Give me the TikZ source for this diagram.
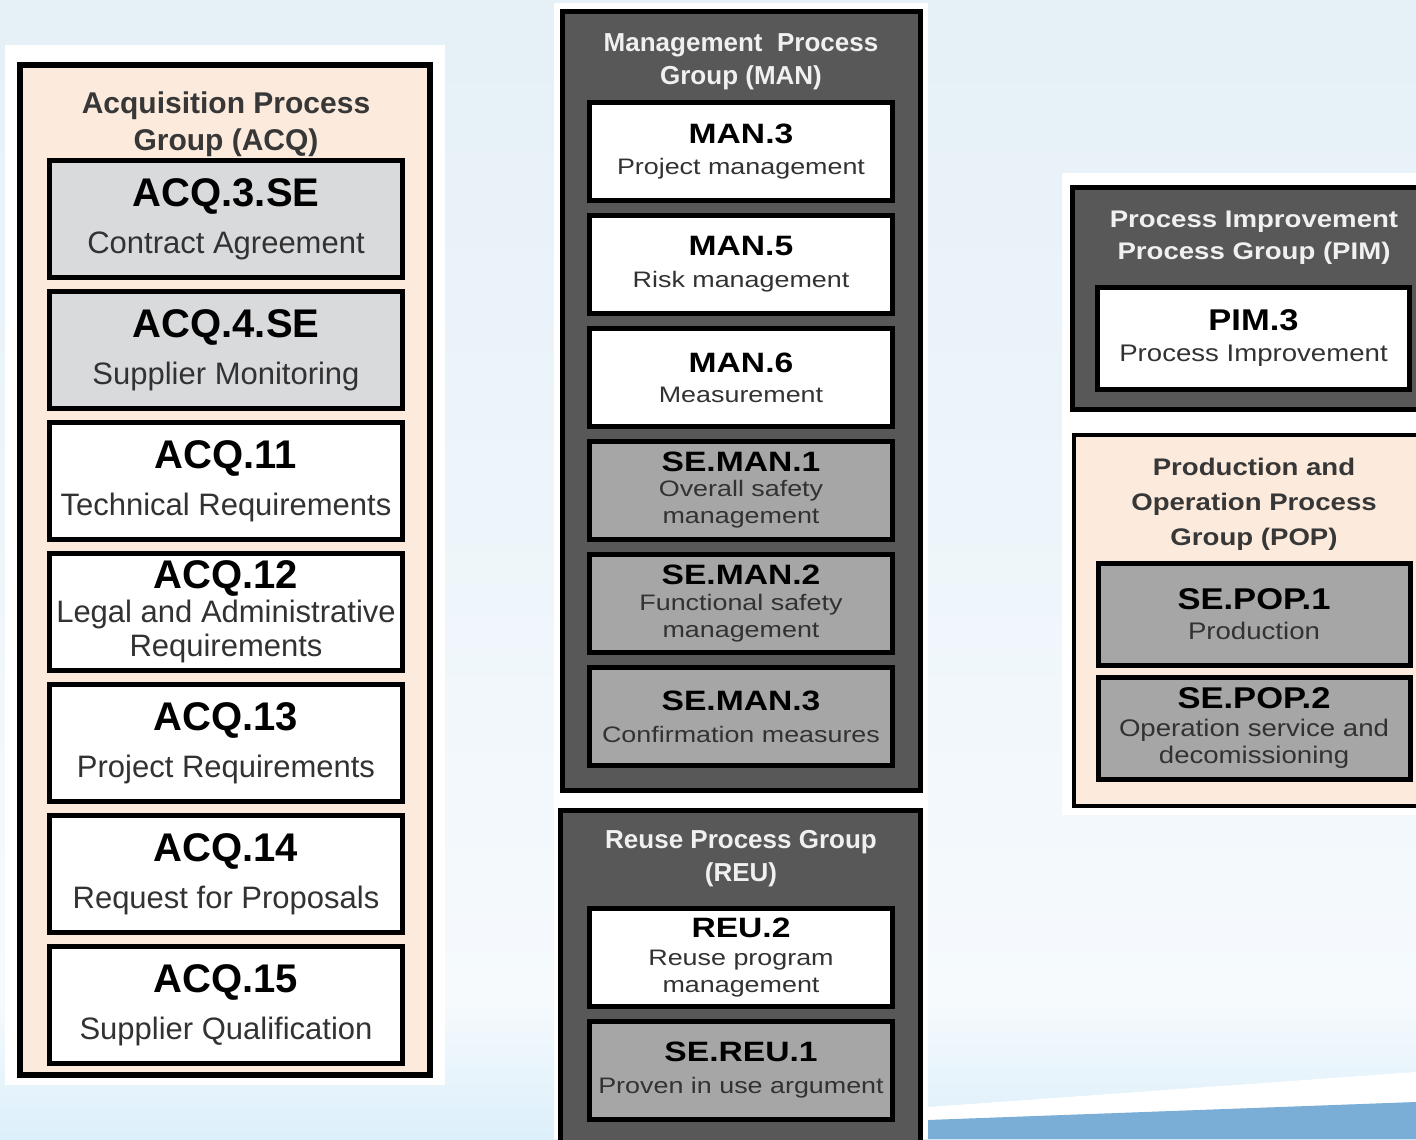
\documentclass[tikz,border=0pt]{standalone}
\usepackage{fontspec}
\setmainfont{Liberation Sans}
\newfontfamily\manfont[FakeStretch=1.2]{Liberation Sans}
\newfontfamily\pimfont[FakeStretch=1.15]{Liberation Sans}
\usepackage{tikz}
\usetikzlibrary{positioning}
\definecolor{slidebg}{RGB}{229,240,247}
\definecolor{slidefade}{RGB}{246,250,253}
\definecolor{slidelow}{RGB}{220,239,250}
\definecolor{slideband}{RGB}{123,174,214}
\definecolor{acqpeach}{RGB}{252,235,221}
\definecolor{acqgray}{RGB}{217,218,220}
\definecolor{mandark}{RGB}{88,88,88}
\definecolor{mangray}{RGB}{166,166,166}
\definecolor{titlegray}{RGB}{55,55,55}
\definecolor{descgray}{RGB}{50,50,50}

\newcommand{\acqcode}[1]{{\color{black}\fontsize{20}{20}\selectfont\bfseries #1}}
\newcommand{\mancode}[1]{{\color{black}\manfont\fontsize{14}{14}\selectfont\bfseries #1}}
\newcommand{\pimcode}[1]{{\color{black}\pimfont\fontsize{15}{15}\selectfont\bfseries #1}}

\begin{document}
\begin{tikzpicture}[
    x=0.5pt, y=-0.5pt,
    backing/.style={fill=white, draw=none},
    lightgroup/.style={draw=black, line width=2.5pt, fill=acqpeach},
    darkgroup/.style={draw=black, line width=2.5pt, fill=mandark},
    acqproc/.style={draw=black, line width=2.5pt, minimum width=176.5pt, minimum height=58.5pt, inner sep=0pt, align=center, text=descgray, font=\fontsize{15.5}{17}\selectfont},
    acqse/.style={acqproc, fill=acqgray},
    acqbase/.style={acqproc, fill=white},
    manproc/.style={draw=black, line width=2.5pt, minimum width=151.5pt, minimum height=49pt, inner sep=0pt, align=center, text=descgray, font=\manfont\fontsize{11.2}{13.5}\selectfont},
    manbase/.style={manproc, fill=white},
    manse/.style={manproc, fill=mangray},
    pimproc/.style={draw=black, line width=2.5pt, minimum width=156pt, minimum height=51pt, inner sep=0pt, align=center, text=descgray, font=\pimfont\fontsize{12}{13.5}\selectfont},
    pimbase/.style={pimproc, fill=white},
    pimse/.style={pimproc, fill=mangray},
    darktitle/.style={align=center, text=white!94!black, font=\bfseries\fontsize{13}{16.5}\selectfont},
    lighttitle/.style={align=center, text=titlegray, font=\bfseries\fontsize{15}{18.5}\selectfont}
]
\useasboundingbox (0,0) rectangle (1416,1139);
\clip (0,0) rectangle (1416,1139);

% slide background
\shade[top color=slidebg, bottom color=slidefade] (0,0) rectangle (1416,1000);
\shade[top color=slidefade, bottom color=slidelow] (0,1000) rectangle (1416,1139);
\fill[white] (928,1107) -- (1416,1072) -- (1416,1102) -- (928,1120) -- cycle;
\fill[slideband] (928,1120) -- (1416,1102) -- (1416,1139) -- (928,1139) -- cycle;

% white backings
\fill[backing] (5,45) rectangle (445,1085);
\fill[backing] (554,3) rectangle (928,1139);
\fill[backing] (1062,173) rectangle (1416,815);

% Acquisition group
\draw[lightgroup, line width=3pt] (20,65) rectangle (430,1075);
\node[lighttitle] (acqtitle) at (226,124) {Acquisition Process\\Group (ACQ)};
\node[acqse] (acq3) at (226,219) {\acqcode{ACQ.3.SE}\\[6.5pt]Contract Agreement};
\node[acqse, below=4.5pt of acq3] (acq4) {\acqcode{ACQ.4.SE}\\[6.5pt]Supplier Monitoring};
\node[acqbase, below=4.5pt of acq4] (acq11) {\acqcode{ACQ.11}\\[6.5pt]Technical Requirements};
\node[acqbase, below=4.5pt of acq11] (acq12) {\acqcode{ACQ.12}\\Legal and Administrative\\Requirements};
\node[acqbase, below=4.5pt of acq12] (acq13) {\acqcode{ACQ.13}\\[6.5pt]Project Requirements};
\node[acqbase, below=4.5pt of acq13] (acq14) {\acqcode{ACQ.14}\\[6.5pt]Request for Proposals};
\node[acqbase, below=4.5pt of acq14] (acq15) {\acqcode{ACQ.15}\\[6.5pt]Supplier Qualification};

% Management group
\draw[darkgroup] (562.5,11.5) rectangle (920.5,790.5);
\node[darktitle] (mantitle) at (741,62) {Management~ Process\\Group (MAN)};
\node[manbase] (man3) at (741,151.5) {\mancode{MAN.3}\\[2pt]Project management};
\node[manbase, below=5pt of man3] (man5) {\mancode{MAN.5}\\[2.5pt]Risk management};
\node[manbase, below=5pt of man5] (man6) {\mancode{MAN.6}\\[1.5pt]Measurement};
\node[manse, below=5pt of man6] (seman1) {\mancode{SE.MAN.1}\\[-1pt]Overall safety\\management};
\node[manse, below=5pt of seman1] (seman2) {\mancode{SE.MAN.2}\\[-0.5pt]Functional safety\\management};
\node[manse, below=5pt of seman2] (seman3) {\mancode{SE.MAN.3}\\[2.5pt]Confirmation measures};

% Reuse group
\draw[darkgroup] (560.5,810.5) rectangle (920.5,1160);
\node[darktitle] (reutitle) at (741,859) {Reuse Process Group\\(REU)};
\node[manbase] (reu2) at (741,957.5) {\mancode{REU.2}\\[0.5pt]Reuse program\\management};
\node[manse, below=5pt of reu2] (sereu1) {\mancode{SE.REU.1}\\[2.5pt]Proven in use argument};

% Process improvement group
\draw[darkgroup] (1072.5,187.5) rectangle (1440,409.5);
\node[darktitle, font=\pimfont\bfseries\fontsize{12}{16}\selectfont] (pimtitle) at (1254,238) {Process Improvement\\Process Group (PIM)};
\node[pimbase] (pim3) at (1253.5,338) {\pimcode{PIM.3}\\[2pt]Process Improvement};

% Production and operation group
\draw[lightgroup, line width=2pt] (1074,435) rectangle (1440,806);
\node[lighttitle, font=\pimfont\bfseries\fontsize{12}{17.5}\selectfont] (poptitle) at (1254,504) {Production and\\Operation Process\\Group (POP)};
\node[pimse] (sepop1) at (1254,614) {\pimcode{SE.POP.1}\\[1.5pt]Production};
\node[pimse, below=3.5pt of sepop1] (sepop2) {\pimcode{SE.POP.2}\\[0.5pt]Operation service and\\decomissioning};

\end{tikzpicture}
\end{document}
